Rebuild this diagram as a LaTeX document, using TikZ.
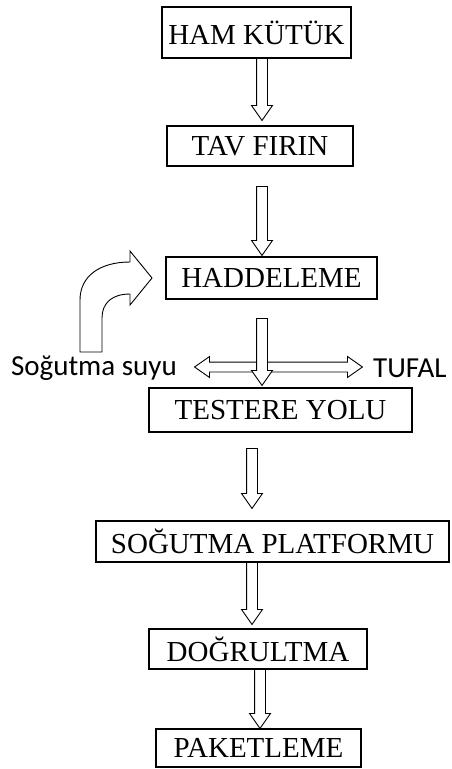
\documentclass[tikz,border=0pt]{standalone}
\usepackage{fontspec}
\setmainfont{Liberation Serif}
\newfontfamily\calibrifont{Carlito}
\usetikzlibrary{shapes.arrows,calc}

% hollow block arrow between two named points
\newcommand{\flowarrow}[3][flow]{%
  \path let \p1=(#2), \p2=(#3), \n1={veclen(\x2-\x1,\y2-\y1)}, \n2={atan2(\y2-\y1,\x2-\x1)} in
    node[#1, minimum height=\n1, rotate=\n2, anchor=tail] at (\p1) {};}

\begin{document}
\begin{tikzpicture}[x=1pt, y=-1pt, box/.style={draw, line width=1.1pt, inner sep=0pt, font=\fontsize{29}{30}\selectfont},
	flow/.style={single arrow, draw, fill=white, line width=0.9pt, inner xsep=0pt, inner ysep=5pt, single arrow head extend=5pt, single arrow tip angle=70},
	side/.style={flow, inner ysep=4.5pt, single arrow head extend=5.5pt}]
	\useasboundingbox (0,0) rectangle (452,769);
	\node[box, minimum width=189pt, minimum height=51pt] (ham) at (256.5,32.5) {HAM KÜTÜK};
	\node[box, minimum width=186pt, minimum height=40pt] (tav) at (260,146) {TAV FIRIN};
	\node[box, minimum width=211pt, minimum height=42pt] (hadde) at (271.5,278) {HADDELEME};
	\node[box, minimum width=263pt, minimum height=44pt] (testere) at (280.5,410) {TESTERE YOLU};
	\node[box, minimum width=353pt, minimum height=41pt] (platform) at (272.5,541.5) {SOĞUTMA PLATFORMU};
	\node[box, minimum width=218pt, minimum height=40pt] (dogru) at (258,649) {DOĞRULTMA};
	\node[box, minimum width=205pt, minimum height=38pt] (paket) at (258.5,748) {PAKETLEME};
	\node[anchor=east, inner sep=0pt, font=\calibrifont\fontsize{29}{30}\selectfont] (su) at (177,368) {Soğutma suyu};
	\node[anchor=west, inner sep=0pt, font=\calibrifont\fontsize{29}{30}\selectfont] (tufal) at (373,368) {TUFAL};
	% arrow ends
	\coordinate (a1) at (262,58);   \coordinate (b1) at (262,120);
	\coordinate (a2) at (262,186);  \coordinate (b2) at (262,255);
	\coordinate (a3) at (262,318);  \coordinate (b3) at (262,385);
	\coordinate (a4) at (257,367);  \coordinate (b4) at (195,367);
	\coordinate (a5) at (267,367);  \coordinate (b5) at (362,367);
	\coordinate (a6) at (252,448);  \coordinate (b6) at (252,508);
	\coordinate (a7) at (252,562);  \coordinate (b7) at (252,624);
	\coordinate (a8) at (260,669);  \coordinate (b8) at (260,728);
	\flowarrow{a1}{b1}
	\flowarrow{a2}{b2}
	\flowarrow[side]{a4}{b4}
	\flowarrow[side]{a5}{b5}
	\flowarrow{a3}{b3}
	\flowarrow{a6}{b6}
	\flowarrow{a7}{b7}
	\flowarrow{a8}{b8}
	% bent arrow into the mill
	\draw[line width=0.9pt, fill=white] (80,352) -- (80,300) .. controls (80,276) and (100,262) .. (130,262) -- (130,251) -- (152,278)
		-- (130,305) -- (130,294) .. controls (112,294) and (102,303) .. (102,318) -- (102,352) -- cycle;
\end{tikzpicture}
\end{document}
